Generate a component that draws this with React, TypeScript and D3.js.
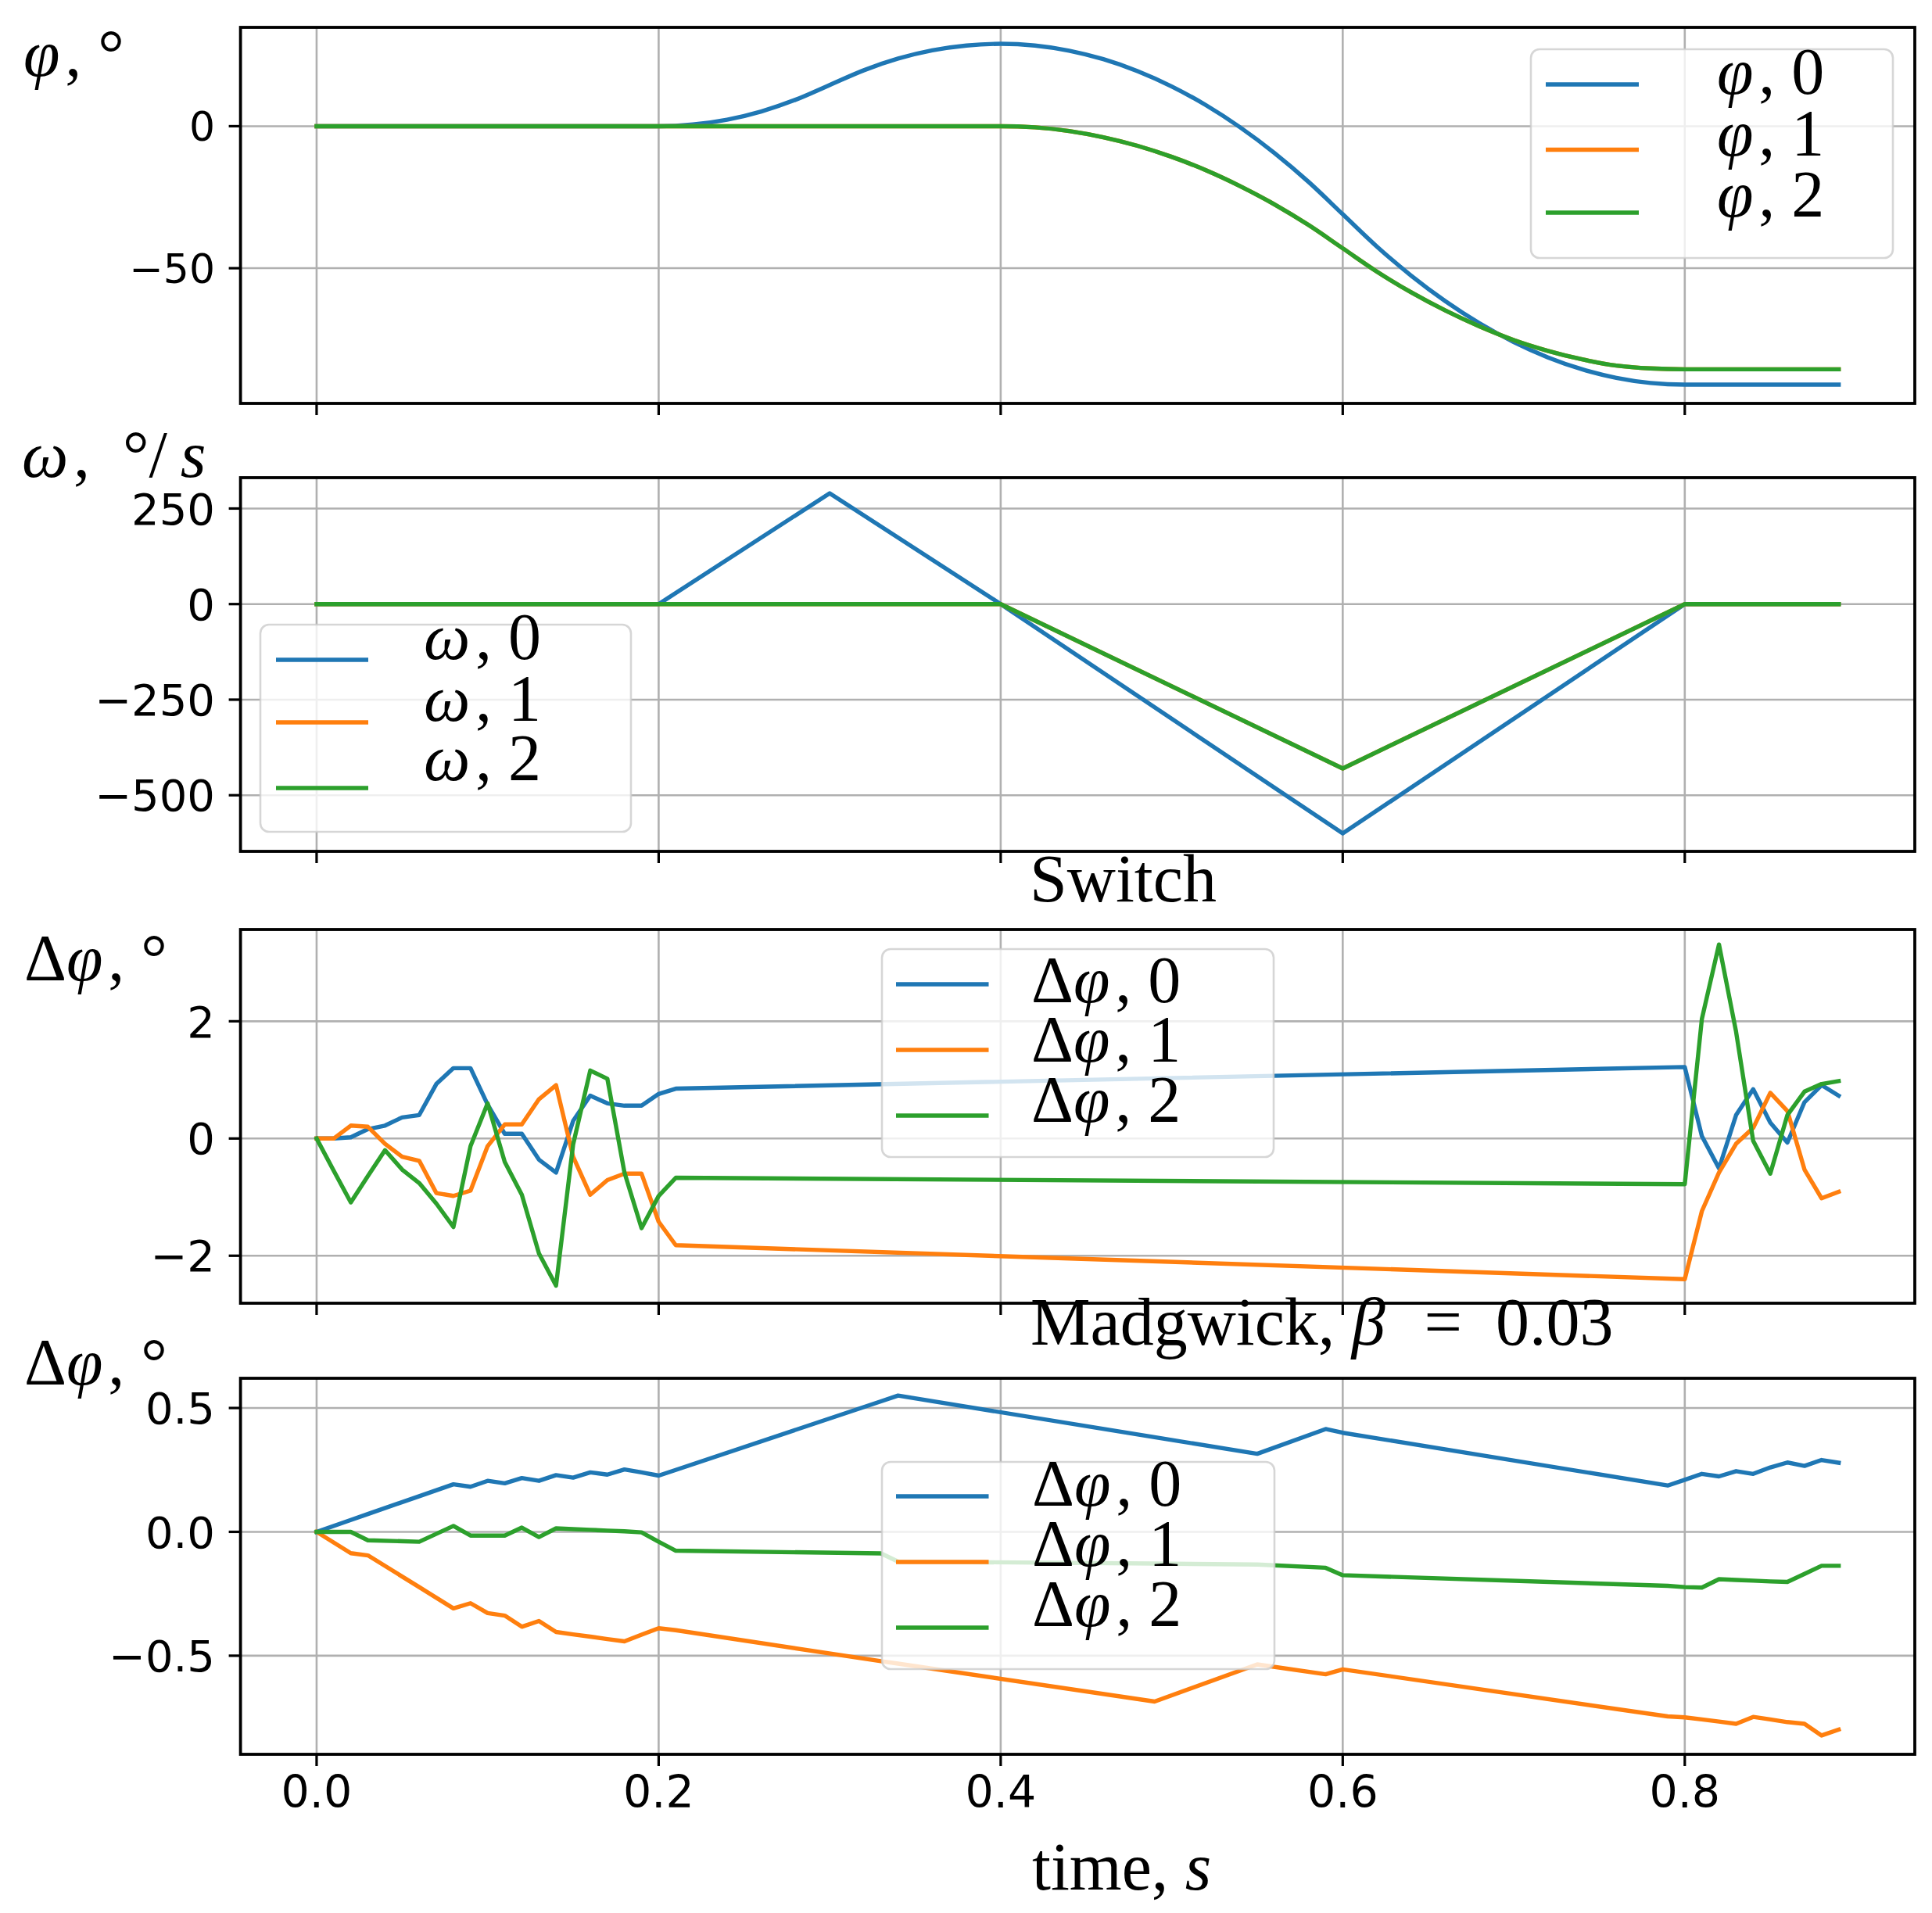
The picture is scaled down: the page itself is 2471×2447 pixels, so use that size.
import React from 'react';
import * as d3 from 'd3';

const W = 2471;
const H = 2447;

// ---------- data ----------
// Panel 1: angle phi (deg)
const tPhi = [0, 0.02, 0.04, 0.06, 0.08, 0.1, 0.12, 0.14, 0.16, 0.18, 0.2, 0.22, 0.24, 0.26, 0.28, 0.3, 0.32, 0.34, 0.36, 0.38, 0.4, 0.42, 0.44, 0.46, 0.48, 0.5, 0.52, 0.54, 0.56, 0.58, 0.6, 0.62, 0.64, 0.66, 0.68, 0.7, 0.72, 0.74, 0.76, 0.78, 0.8, 0.82, 0.84, 0.86, 0.88, 0.89];
const phi0 = [0, 0, 0, 0, 0, 0, 0, 0, 0, 0, 0, 0.6, 2.3, 5.2, 9.3, 14.5, 19.7, 23.8, 26.7, 28.4, 29.0, 28.4, 26.6, 23.6, 19.4, 14.0, 7.4, -0.4, -9.4, -19.6, -31.0, -42.4, -52.6, -61.6, -69.4, -76.0, -81.4, -85.6, -88.6, -90.4, -91.0, -91, -91, -91, -91, -91];
const phi1 = [0, 0, 0, 0, 0, 0, 0, 0, 0, 0, 0, 0, 0, 0, 0, 0, 0, 0, 0, 0, 0, -0.4, -1.7, -3.9, -6.9, -10.8, -15.5, -21.1, -27.5, -34.8, -43.0, -51.2, -58.5, -64.9, -70.5, -75.3, -79.1, -82.1, -84.3, -85.3, -85.6, -85.6, -85.6, -85.6, -85.6, -85.6];
const phi2 = phi1;

// Panel 2: angular rate omega (deg/s)
const tOmega = [0, 0.2, 0.3, 0.4, 0.6, 0.8, 0.89];
const omega0 = [0, 0, 290, 0, -600, 0, 0];
const omega1 = [0, 0, 0, 0, -430, 0, 0];
const omega2 = [0, 0, 0, 0, -430, 0, 0];

// Panel 3: error, "Switch"
const tSwitch = [0, 0.01, 0.02, 0.03, 0.04, 0.05, 0.06, 0.07, 0.08, 0.09, 0.1, 0.11, 0.12, 0.13, 0.14, 0.15, 0.16, 0.17, 0.18, 0.19, 0.2, 0.21, 0.8, 0.81, 0.82, 0.83, 0.84, 0.85, 0.86, 0.87, 0.88, 0.89];
const sw0 = [0, 0, 0.02, 0.16, 0.22, 0.36, 0.4, 0.93, 1.2, 1.2, 0.58, 0.08, 0.08, -0.36, -0.58, 0.3, 0.73, 0.6, 0.56, 0.56, 0.76, 0.85, 1.22, 0.04, -0.51, 0.4, 0.84, 0.27, -0.07, 0.62, 0.91, 0.73];
const sw1 = [0, 0, 0.22, 0.2, -0.09, -0.31, -0.38, -0.93, -0.98, -0.89, -0.13, 0.24, 0.24, 0.67, 0.91, -0.31, -0.96, -0.71, -0.6, -0.6, -1.42, -1.82, -2.4, -1.24, -0.58, -0.09, 0.18, 0.78, 0.47, -0.53, -1.02, -0.91];
const sw2 = [0, -0.55, -1.09, -0.64, -0.2, -0.53, -0.76, -1.11, -1.51, -0.13, 0.6, -0.4, -0.96, -1.96, -2.51, -0.1, 1.16, 1.02, -0.58, -1.53, -0.98, -0.67, -0.78, 2.04, 3.31, 1.82, -0.04, -0.6, 0.4, 0.8, 0.93, 0.98];

// Panel 4: error, "Madgwick, beta = 0.03"
const tMadg = [0, 0.02, 0.03, 0.06, 0.08, 0.09, 0.1, 0.11, 0.12, 0.13, 0.14, 0.15, 0.16, 0.17, 0.18, 0.19, 0.2, 0.21, 0.33, 0.34, 0.49, 0.55, 0.59, 0.6, 0.79, 0.8, 0.81, 0.82, 0.83, 0.84, 0.85, 0.86, 0.87, 0.88, 0.89];
const md0 = [0, 0.048, 0.072, 0.144, 0.192, 0.182, 0.206, 0.196, 0.217, 0.206, 0.229, 0.219, 0.24, 0.231, 0.252, 0.24, 0.227, 0.25, 0.527, 0.55, 0.382, 0.315, 0.415, 0.4, 0.187, 0.21, 0.234, 0.224, 0.245, 0.234, 0.26, 0.28, 0.266, 0.29, 0.279];
const md1 = [0, -0.086, -0.095, -0.223, -0.309, -0.288, -0.328, -0.338, -0.383, -0.36, -0.404, -0.414, -0.423, -0.433, -0.442, -0.415, -0.389, -0.397, -0.522, -0.532, -0.685, -0.535, -0.575, -0.555, -0.745, -0.749, -0.757, -0.766, -0.775, -0.747, -0.757, -0.768, -0.775, -0.822, -0.798];
const md2 = [0, 0, -0.034, -0.04, 0.024, -0.015, -0.015, -0.015, 0.017, -0.021, 0.014, 0.011, 0.008, 0.005, 0.002, -0.002, -0.04, -0.076, -0.087, -0.12, -0.128, -0.132, -0.145, -0.175, -0.218, -0.223, -0.225, -0.191, -0.194, -0.197, -0.2, -0.202, -0.17, -0.137, -0.137];

const xTicks = [0, 0.2, 0.4, 0.6, 0.8];
const xTickLabels = ['0.0', '0.2', '0.4', '0.6', '0.8'];
const yTicks1 = [0, -50];
const yTickLabels1 = ['0', '\u221250'];
const yTicks2 = [250, 0, -250, -500];
const yTickLabels2 = ['250', '0', '\u2212250', '\u2212500'];
const yTicks3 = [2, 0, -2];
const yTickLabels3 = ['2', '0', '\u22122'];
const yTicks4 = [0.5, 0, -0.5];
const yTickLabels4 = ['0.5', '0.0', '\u22120.5'];

const COLORS = ['#1f77b4', '#ff7f0e', '#2ca02c'];

type Part = { t: string; i?: boolean };

const SERIF = "'Liberation Serif', 'DejaVu Serif', serif";
const SANS = "'DejaVu Sans', sans-serif";

const X0 = 307.6;
const X1 = 2449;
const x = d3.scaleLinear().domain([-0.0445, 0.9345]).range([X0, X1]);

interface Panel {
  top: number;
  bottom: number;
  domain: [number, number];
  yTicks: number[];
  yTickLabels: string[];
  tickSize: number;
  t: number[];
  series: number[][];
  smooth: boolean;
  legend: {
    box: [number, number, number, number];
    hx: [number, number];
    hy: number[];
    tx: number;
    ty: number[];
    labels: Part[][];
  };
  ylabel: { x: number; y: number; parts: Part[] };
  title?: { x: number; y: number; parts: Part[] };
}

const phiLabels: Part[][] = [0, 1, 2].map((k) => [{ t: '\u03c6', i: true }, { t: ', ' + k }]);
const omegaLabels: Part[][] = [0, 1, 2].map((k) => [{ t: '\u03c9', i: true }, { t: ', ' + k }]);
const dphiLabels: Part[][] = [0, 1, 2].map((k) => [{ t: '\u0394' }, { t: '\u03c6', i: true }, { t: ', ' + k }]);

const panels: Panel[] = [
  {
    top: 35, bottom: 516, domain: [-97.6, 34.8], yTicks: yTicks1, yTickLabels: yTickLabels1, tickSize: 52,
    t: tPhi, series: [phi0, phi1, phi2], smooth: true,
    legend: { box: [1958, 63, 2421, 330], hx: [1977, 2096], hy: [108, 191.5, 272], tx: 2196, ty: [120, 198.5, 277], labels: phiLabels },
    ylabel: { x: 30, y: 97, parts: [{ t: '\u03c6', i: true }, { t: ', \u00b0' }] },
  },
  {
    top: 611, bottom: 1089, domain: [-646.8, 330.7], yTicks: yTicks2, yTickLabels: yTickLabels2, tickSize: 56,
    t: tOmega, series: [omega0, omega1, omega2], smooth: false,
    legend: { box: [333, 799, 807, 1064], hx: [353, 471], hy: [844, 924, 1008], tx: 542, ty: [843, 922, 998], labels: omegaLabels },
    ylabel: { x: 28, y: 610, parts: [{ t: '\u03c9', i: true }, { t: ',\u2002\u00b0/\u2009' }, { t: 's', i: true }] },
  },
  {
    top: 1189, bottom: 1667, domain: [-2.81, 3.565], yTicks: yTicks3, yTickLabels: yTickLabels3, tickSize: 56,
    t: tSwitch, series: [sw0, sw1, sw2], smooth: false,
    legend: { box: [1128, 1214, 1629, 1480], hx: [1146, 1264.5], hy: [1259, 1343, 1427], tx: 1319, ty: [1282, 1358, 1435], labels: dphiLabels },
    ylabel: { x: 31, y: 1254, parts: [{ t: '\u0394' }, { t: '\u03c6', i: true }, { t: ', \u00b0' }] },
    title: { x: 1317, y: 1153, parts: [{ t: 'Switch' }] },
  },
  {
    top: 1763, bottom: 2244, domain: [-0.898, 0.62], yTicks: yTicks4, yTickLabels: yTickLabels4, tickSize: 56,
    t: tMadg, series: [md0, md1, md2], smooth: false,
    legend: { box: [1128, 1870, 1630, 2135], hx: [1146, 1264.5], hy: [1914, 1998, 2082], tx: 1320, ty: [1926, 2003, 2080], labels: dphiLabels },
    ylabel: { x: 31, y: 1771, parts: [{ t: '\u0394' }, { t: '\u03c6', i: true }, { t: ', \u00b0' }] },
    title: { x: 1318, y: 1720, parts: [{ t: 'Madgwick, ' }, { t: '\u03b2', i: true }, { t: '\u2002=\u20020.03' }] },
  },
];

function Rich({ x0, y0, parts, size }: { x0: number; y0: number; parts: Part[]; size: number }) {
  return (
    <text x={x0} y={y0} fontFamily={SERIF} fontSize={size} fill="#000" style={{ whiteSpace: 'pre' }}>
      {parts.map((p, i) => (
        <tspan key={i} fontStyle={p.i ? 'italic' : 'normal'} dx={i > 0 && parts[i - 1].i ? size * 0.08 : 0}>
          {p.t}
        </tspan>
      ))}
    </text>
  );
}

function PanelView({ p, last }: { p: Panel; last: boolean }) {
  const y = d3.scaleLinear().domain(p.domain).range([p.bottom, p.top]);
  const line = d3
    .line<number>()
    .x((_, i) => x(p.t[i]))
    .y((d) => y(d))
    .curve(p.smooth ? d3.curveMonotoneX : d3.curveLinear);
  const clipId = `clip-${p.top}`;
  const lg = p.legend;
  return (
    <g>
      <defs>
        <clipPath id={clipId}>
          <rect x={X0} y={p.top} width={X1 - X0} height={p.bottom - p.top} />
        </clipPath>
      </defs>
      {xTicks.map((v) => (
        <line key={'gx' + v} x1={x(v)} x2={x(v)} y1={p.top} y2={p.bottom} stroke="#b0b0b0" strokeWidth={2.6} />
      ))}
      {p.yTicks.map((v) => (
        <line key={'gy' + v} x1={X0} x2={X1} y1={y(v)} y2={y(v)} stroke="#b0b0b0" strokeWidth={2.6} />
      ))}
      <g clipPath={`url(#${clipId})`}>
        {p.series.map((s, k) => (
          <path key={k} d={line(s) || ''} fill="none" stroke={COLORS[k]} strokeWidth={5.4} strokeLinejoin="round" strokeLinecap="square" />
        ))}
      </g>
      <rect x={X0} y={p.top} width={X1 - X0} height={p.bottom - p.top} fill="none" stroke="#000" strokeWidth={3.8} />
      {xTicks.map((v) => (
        <line key={'tx' + v} x1={x(v)} x2={x(v)} y1={p.bottom} y2={p.bottom + 15} stroke="#000" strokeWidth={3.2} />
      ))}
      {p.yTicks.map((v, i) => (
        <g key={'ty' + v}>
          <line x1={X0 - 15} x2={X0} y1={y(v)} y2={y(v)} stroke="#000" strokeWidth={3.2} />
          <text x={275} y={y(v)} dy="0.36em" textAnchor="end" fontFamily={SANS} fontSize={p.tickSize} fill="#000">
            {p.yTickLabels[i]}
          </text>
        </g>
      ))}
      {last &&
        xTicks.map((v, i) => (
          <text key={'lx' + v} x={x(v)} y={2312} textAnchor="middle" fontFamily={SANS} fontSize={57} fill="#000">
            {xTickLabels[i]}
          </text>
        ))}
      <rect
        x={lg.box[0]}
        y={lg.box[1]}
        width={lg.box[2] - lg.box[0]}
        height={lg.box[3] - lg.box[1]}
        rx={11}
        ry={11}
        fill="#fff"
        fillOpacity={0.8}
        stroke="#cccccc"
        strokeOpacity={0.8}
        strokeWidth={2.6}
      />
      {lg.labels.map((lab, k) => (
        <g key={'lg' + k}>
          <line x1={lg.hx[0]} x2={lg.hx[1]} y1={lg.hy[k]} y2={lg.hy[k]} stroke={COLORS[k]} strokeWidth={5.4} />
          <Rich x0={lg.tx} y0={lg.ty[k]} parts={lab} size={84} />
        </g>
      ))}
      <Rich x0={p.ylabel.x} y0={p.ylabel.y} parts={p.ylabel.parts} size={84} />
      {p.title && <Rich x0={p.title.x} y0={p.title.y} parts={p.title.parts} size={86} />}
    </g>
  );
}

export default function App() {
  return (
    <svg
      width={W}
      height={H}
      viewBox={`0 0 ${W} ${H}`}
      style={{ position: 'absolute', left: 0, top: 0, background: '#fff' }}
      xmlns="http://www.w3.org/2000/svg"
    >
      <rect x={0} y={0} width={W} height={H} fill="#fff" />
      {panels.map((p, i) => (
        <PanelView key={i} p={p} last={i === panels.length - 1} />
      ))}
      <Rich x0={1320} y0={2417} parts={[{ t: 'time, ' }, { t: 's', i: true }]} size={86} />
    </svg>
  );
}
